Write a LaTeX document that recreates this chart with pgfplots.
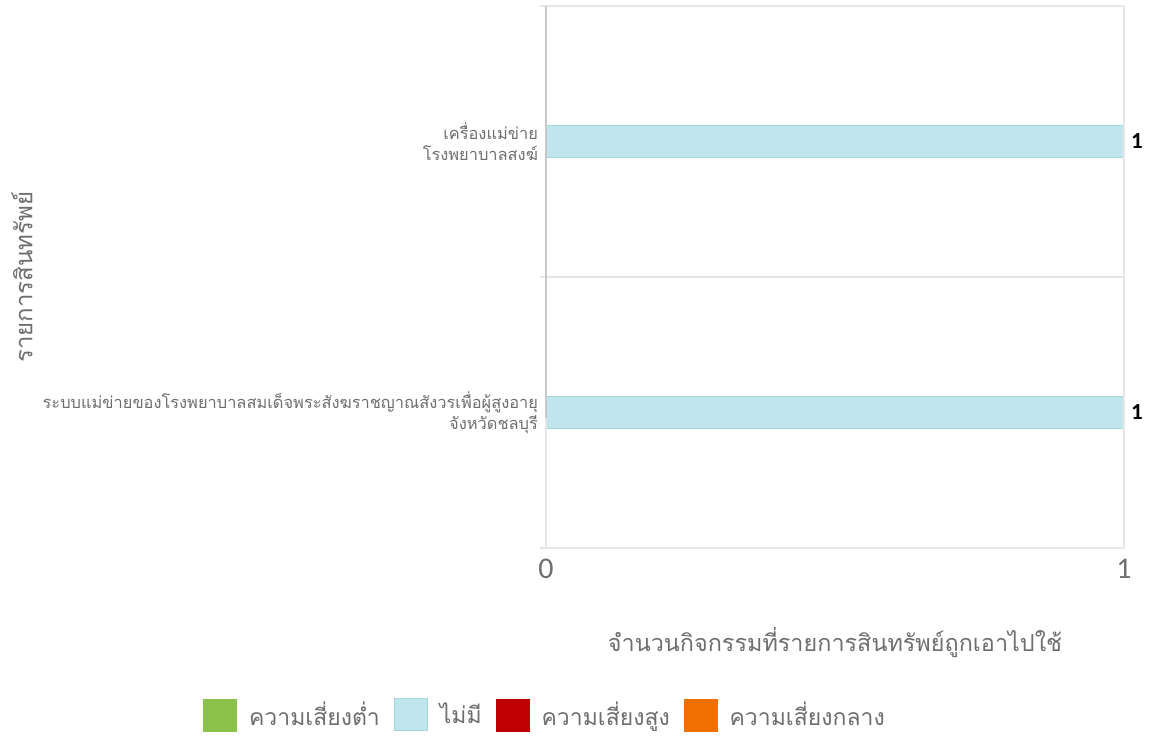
\documentclass[border=0pt]{standalone}
\usepackage{fontspec}
\usepackage{pgfplots}
\pgfplotsset{compat=1.18}
\setmainfont{Carlito}
\newfontfamily\thaifont[Script=Thai]{Loma}
\definecolor{txtgray}{HTML}{6E6E6E}
\definecolor{gridgray}{HTML}{E6E6E6}
\definecolor{axgray}{HTML}{C8C8C8}
\definecolor{barblue}{HTML}{BFE6EC}
\definecolor{baredge}{HTML}{A8D4DC}
\definecolor{lowgreen}{HTML}{8BC34A}
\definecolor{highred}{HTML}{C00000}
\definecolor{midorange}{HTML}{EF6F00}
\begin{document}
\begin{tikzpicture}
\begin{axis}[
  scale only axis,
  width=289pt, height=271pt,
  xmin=0, xmax=1,
  ymin=-0.5, ymax=1.5,
  xtick={0,1},
  ytick={0,1},
  yticklabels={{ระบบแม่ข่ายของโรงพยาบาลสมเด็จพระสังฆราชญาณสังวรเพื่อผู้สูงอายุ\\จังหวัดชลบุรี},{เครื่องแม่ข่าย\\โรงพยาบาลสงฆ์}},
  minor ytick={-0.5,0.5,1.5},
  ytick pos=left,
  ymajorgrids=false,
  yminorgrids=true,
  minor grid style={gridgray, line width=0.6pt},
  axis line style={draw=none},
  major tick length=0pt,
  minor tick length=3pt,
  tick style={gridgray, line width=0.6pt},
  xtick style={draw=none},
  tick align=outside,
  /pgf/number format/assume math mode=true,
  xticklabel style={font=\fontsize{15}{15}\selectfont, text=txtgray, yshift=-2pt},
  yticklabel style={font=\thaifont\fontsize{8.2}{10.5}\selectfont, text=txtgray, align=right, xshift=-0.5pt},
  xlabel={จำนวนกิจกรรมที่รายการสินทรัพย์ถูกเอาไปใช้},
  ylabel={รายการสินทรัพย์},
  xlabel style={font=\thaifont\fontsize{11.7}{12}\selectfont, text=txtgray, at={(rel axis cs:0.5,0)}, yshift=-47.5pt, anchor=center},
  ylabel style={font=\thaifont\fontsize{12}{12}\selectfont, text=txtgray, at={(rel axis cs:0,0.5)}, yshift=262pt, anchor=center},
  clip=false,
  legend columns=4,
  legend style={at={(rel axis cs:0,-0.308)}, anchor=center, draw=none, fill=none, inner sep=0pt,
    font=\thaifont\fontsize{11.5}{12}\selectfont, text=txtgray,
    /tikz/every odd column/.append style={column sep=4pt},
    /tikz/every even column/.append style={column sep=5pt}},
  legend cell align=left,
]
\addlegendimage{legend image code/.code={\fill[lowgreen] (0pt,-8pt) rectangle (16.5pt,8pt);}}
\addlegendentry{ความเสี่ยงต่ำ}
\addplot[xbar, bar width=16pt, fill=barblue, draw=baredge, line width=0.5pt,
  legend image code/.code={\filldraw[fill=barblue, draw=baredge] (0pt,-8pt) rectangle (16.5pt,8pt);},
  nodes near coords, nodes near coords align={horizontal},
  every node near coord/.append style={font=\bfseries\fontsize{11.5}{11.5}\selectfont, text=black, xshift=0pt}]
  coordinates {(1,0) (1,1)};
\addlegendentry{ไม่มี}
\addlegendimage{legend image code/.code={\fill[highred] (0pt,-8pt) rectangle (16.5pt,8pt);}}
\addlegendentry{ความเสี่ยงสูง}
\addlegendimage{legend image code/.code={\fill[midorange] (0pt,-8pt) rectangle (16.5pt,8pt);}}
\addlegendentry{ความเสี่ยงกลาง}
\draw[axgray, line width=0.6pt] (rel axis cs:0,0) -- (rel axis cs:0,1);
\draw[gridgray, line width=0.6pt] (rel axis cs:1,0) -- (rel axis cs:1,1);
\draw[gridgray, line width=0.6pt] (rel axis cs:0,0) -- ++(0,-3pt);
\draw[gridgray, line width=0.6pt] (rel axis cs:1,0) -- ++(0,-3pt);
\path ([xshift=-273pt,yshift=-94.5pt]rel axis cs:0,0) rectangle ([xshift=14pt,yshift=3pt]rel axis cs:1,1);
\end{axis}
\end{tikzpicture}
\end{document}
